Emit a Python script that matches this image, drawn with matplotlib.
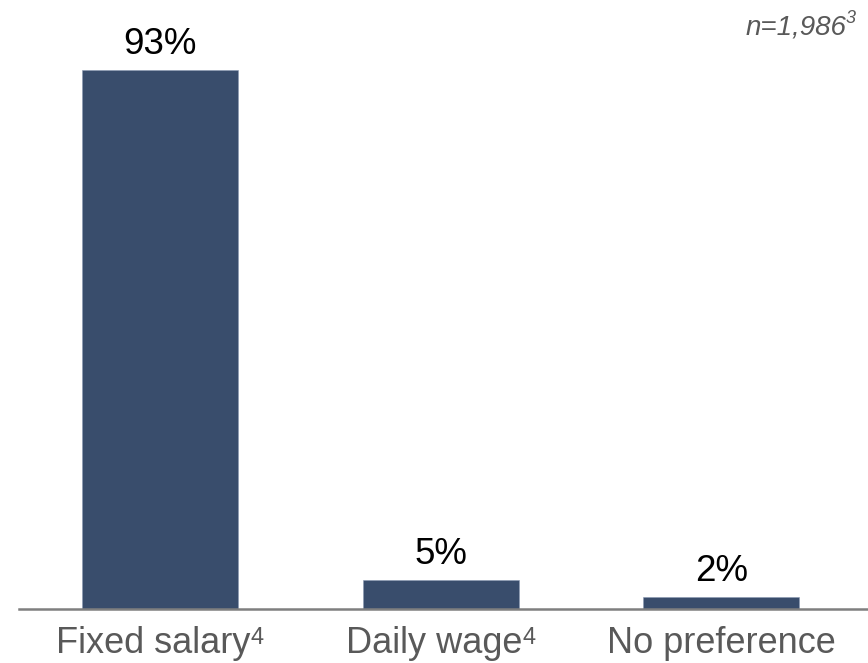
import matplotlib
matplotlib.use("Agg")
import matplotlib.pyplot as plt

plt.rcParams["font.family"] = ["Liberation Sans", "DejaVu Sans"]

# Preferred payment type, share of respondents (%)
categories = ["Fixed salary", "Daily wage", "No preference"]
footnotes = ["4", "4", ""]
shares = [93, 5, 2]
value_labels = ["93%", "5%", "2%"]
sample_note = "n=1,986"
sample_footnote = "3"

bar_color = "#394d6c"
axis_color = "#7f7f7f"
tick_color = "#595959"
DPI = 100

fig = plt.figure(figsize=(8.68, 6.63), dpi=DPI)
ax = fig.add_axes([19 / 868, 54.5 / 663, 849 / 868, 608.5 / 663])
renderer = fig.canvas.get_renderer()

x = list(range(len(categories)))
bars = ax.bar(x, shares, width=0.556, color=bar_color, edgecolor="#8a9ab3",
              linewidth=0.4, zorder=2)

for rect, lab in zip(bars, value_labels):
    ax.annotate(lab, (rect.get_x() + rect.get_width() / 2, rect.get_height()),
                xytext=(0, 5.5), textcoords="offset points",
                ha="center", va="bottom", fontsize=26.5, color="#000000")

ax.set_xlim(-0.502, 2.523)
ax.set_ylim(0, 105.1)
ax.set_xticks(x)
ax.set_xticklabels([])
ax.tick_params(axis="x", length=0)
ax.set_yticks([])


def text_with_note(xy, xycoords, dy, main, note, size, note_size, rise,
                   align="center", **kw):
    """Draw `main` followed by a raised footnote marker on one baseline."""
    t1 = ax.annotate(main, xy, xycoords=xycoords, xytext=(0, dy),
                     textcoords="offset points", ha="left", va="baseline",
                     fontsize=size, annotation_clip=False, **kw)
    w1 = t1.get_window_extent(renderer).width * 72 / DPI
    w2 = 0.0
    t2 = None
    if note:
        t2 = ax.annotate(note, xy, xycoords=xycoords, xytext=(0, dy + rise),
                         textcoords="offset points", ha="left", va="baseline",
                         fontsize=note_size, annotation_clip=False, **kw)
        w2 = t2.get_window_extent(renderer).width * 72 / DPI
    total = w1 + w2
    start = -total / 2 if align == "center" else -total
    t1.xyann = (start, dy)
    if t2 is not None:
        t2.xyann = (start + w1, dy + rise)


# Category labels on a common baseline below the axis
for xi, cat, fn in zip(x, categories, footnotes):
    text_with_note((xi, 0), ("data", "data"), -32, cat, fn, 26, 17, 6.5,
                   color=tick_color)

for side in ("left", "right", "top"):
    ax.spines[side].set_visible(False)
ax.spines["bottom"].set_color(axis_color)
ax.spines["bottom"].set_linewidth(1.8)
ax.spines["bottom"].set_zorder(3)

# Sample size note, top right
text_with_note((856, 663 - 34.5), "figure pixels", 0, sample_note,
               sample_footnote, 20, 13, 8.5, align="right",
               color=tick_color, style="italic")

fig.savefig("out.png", dpi=DPI)
